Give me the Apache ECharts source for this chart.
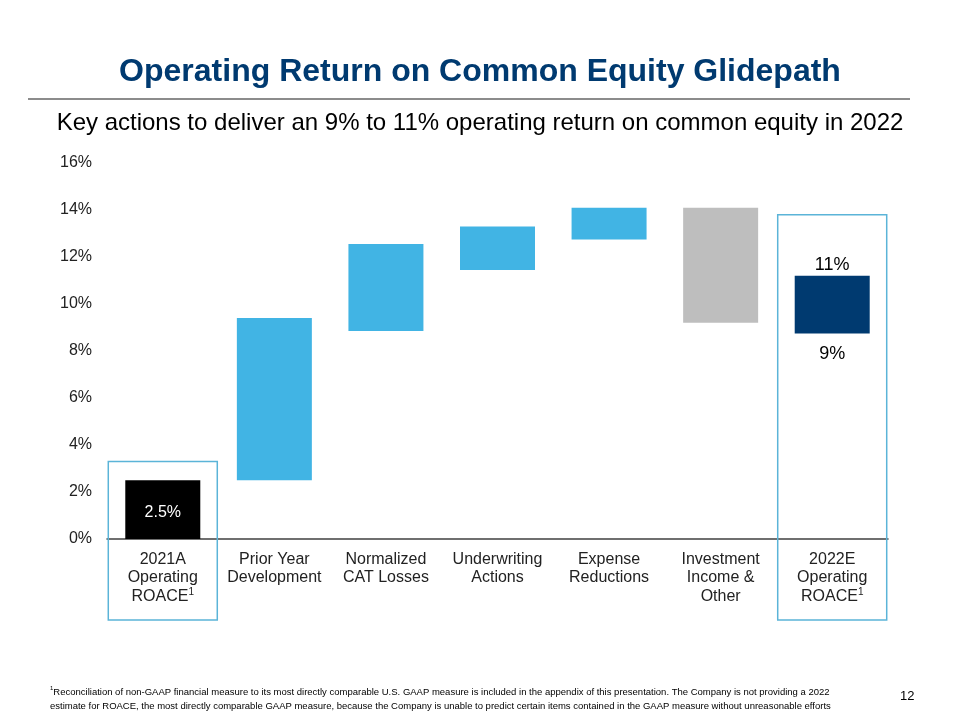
<!DOCTYPE html>
<html><head><meta charset="utf-8">
<script src="https://cdn.jsdelivr.net/npm/echarts@6/dist/echarts.min.js"></script>
<style>html,body{margin:0;padding:0;background:#fff}#c{width:960px;height:720px}</style>
</head><body><div id="c"></div>
<script>
const categories = ['2021A\nOperating\nROACE¹', 'Prior Year\nDevelopment', 'Normalized\nCAT Losses', 'Underwriting\nActions', 'Expense\nReductions', 'Investment\nIncome &\nOther', '2022E\nOperating\nROACE¹'];
const lows  = [0, 2.5, 8.85, 11.45, 12.75, 9.2, 8.75];
const highs = [2.5, 9.4, 12.55, 13.3, 14.1, 14.1, 11.2];
const barColors = ['#000000', '#41B4E4', '#41B4E4', '#41B4E4', '#41B4E4', '#BEBEBE', '#003A70'];
const topLabels = ['', '', '', '', '', '', '11%'];
const insideLabels = ['2.5%', '', '', '', '', '', ''];
const bottomLabels = ['', '', '', '', '', '', '9%'];
const yTicks = [0, 2, 4, 6, 8, 10, 12, 14, 16];
const highlightIdx = [0, 6];
const highlightTop = [3.3, 13.8];

const chart = echarts.init(document.getElementById('c'));
const F = 'Liberation Sans, Arial, sans-serif';

function catLabel(v) {
  const lines = v.split('\n');
  return lines.map(l => l.endsWith('¹') ? '{t|' + l.slice(0, -1) + '}{s|1}' : '{t|' + l + '}').join('\n');
}

chart.setOption({
  animation: false,
  title: [
    { text: 'Operating Return on Common Equity Glidepath', left: 'center', top: 51,
      textStyle: { fontFamily: F, fontSize: 32, fontWeight: 'bold', color: '#003A70' } },
    { text: 'Key actions to deliver an 9% to 11% operating return on common equity in 2022', left: 'center', top: 106,
      textStyle: { fontFamily: F, fontSize: 24, fontWeight: 'normal', color: '#000' } }
  ],
  grid: { left: 107, right: 72, top: 163, bottom: 181, containLabel: false },
  xAxis: {
    type: 'category', data: categories,
    axisLine: { lineStyle: { color: '#404040', width: 1.5 } },
    axisTick: { show: false },
    axisLabel: {
      interval: 0, margin: 11, formatter: catLabel,
      rich: {
        t: { fontFamily: F, fontSize: 16, color: '#222', lineHeight: 18.5 },
        s: { fontFamily: F, fontSize: 10, color: '#222', lineHeight: 18.5, verticalAlign: 'top', padding: [0, 0, 6, 0] }
      }
    }
  },
  yAxis: {
    type: 'value', min: 0, max: 16, interval: 2,
    axisLine: { show: false }, axisTick: { show: false }, splitLine: { show: false },
    axisLabel: { formatter: v => v + '%', fontFamily: F, fontSize: 16, color: '#222', margin: 15,
      verticalAlign: 'middle', padding: [3, 0, 0, 0] }
  },
  series: [
    { type: 'bar', stack: 'w', barWidth: 75, silent: true,
      data: lows,
      itemStyle: { color: 'transparent' },
      label: { show: true, position: 'insideTop', distance: 12, fontFamily: F, fontSize: 18, color: '#000',
        formatter: p => bottomLabels[p.dataIndex] } },
    { type: 'bar', stack: 'w', barWidth: 75,
      data: highs.map((h, i) => ({ value: h - lows[i], itemStyle: { color: barColors[i] } })),
      label: { show: true, position: 'top', distance: 2, fontFamily: F, fontSize: 18, color: '#000',
        formatter: p => topLabels[p.dataIndex] } },
    { type: 'bar', stack: 'w2', barWidth: 75, barGap: '-100%', silent: true,
      data: highs.map((h, i) => insideLabels[i] ? h : 0),
      itemStyle: { color: 'transparent' },
      label: { show: true, position: 'inside', offset: [0, 3], fontFamily: F, fontSize: 16, color: '#fff',
        formatter: p => insideLabels[p.dataIndex] } }
  ]
});

const graphics = [];
highlightIdx.forEach((idx, k) => {
  const c = chart.convertToPixel({ xAxisIndex: 0 }, categories[idx]);
  const yt = chart.convertToPixel({ yAxisIndex: 0 }, highlightTop[k]);
  const w = 109;
  graphics.push({ type: 'rect', z: 10, silent: true,
    shape: { x: c - w / 2, y: yt, width: w, height: 620 - yt },
    style: { fill: 'none', stroke: '#5BB4D8', lineWidth: 1.5 } });
});
graphics.push({ type: 'line', shape: { x1: 28, y1: 99, x2: 910, y2: 99 }, style: { stroke: '#8C8C8C', lineWidth: 2 } });
graphics.push({ type: 'text', left: 50, top: 685, style: {
  text: '{s|1}Reconciliation of non-GAAP financial measure to its most directly comparable U.S. GAAP measure is included in the appendix of this presentation. The Company is not providing a 2022\nestimate for ROACE, the most directly comparable GAAP measure, because the Company is unable to predict certain items contained in the GAAP measure without unreasonable efforts',
  font: '9.5px Liberation Sans, Arial, sans-serif', fill: '#000', lineHeight: 14,
  rich: { s: { fontSize: 6, verticalAlign: 'top', fill: '#000' } } } });
graphics.push({ type: 'text', left: 900, top: 690, style: { text: '12', font: '13px Liberation Sans, Arial, sans-serif', fill: '#000' } });
chart.setOption({ graphic: graphics });
</script></body></html>
